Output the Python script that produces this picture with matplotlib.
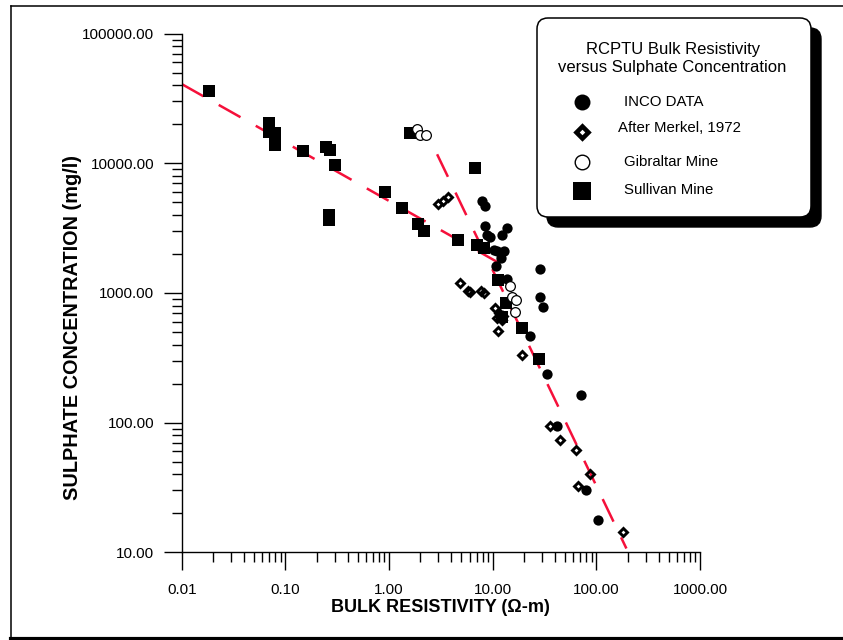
import matplotlib
matplotlib.use('Agg')
import matplotlib.pyplot as plt
from matplotlib.patches import FancyBboxPatch
from matplotlib.ticker import LogLocator, NullFormatter, FuncFormatter

plt.rcParams['font.family'] = ['Liberation Sans', 'DejaVu Sans']

# INCO data (filled circles): bulk resistivity (ohm-m), sulphate (mg/l)
inco_res = [7.9, 8.4, 8.4, 13.6, 8.85, 9.4, 12.2, 10.3, 10.9, 12.8, 12.1, 10.8,
            28.5, 13.8, 28.3, 30.5, 22.8, 33.6, 71, 42, 79.4, 104.5]
inco_so4 = [5150, 4700, 3290, 3155, 2800, 2720, 2800, 2150, 2100, 2120, 1870, 1625,
            1525, 1280, 935, 785, 466, 237, 163, 94.3, 30.2, 17.7]

# After Merkel, 1972 (diamonds)
merkel_res = [3.0, 3.35, 3.72, 4.8, 5.75, 6.1, 7.7, 8.3, 10.6, 11.5, 12.4, 11.0,
              12.7, 11.2, 19.3, 36, 44.5, 64, 86.7, 66.4, 182]
merkel_so4 = [4850, 5150, 5550, 1190, 1040, 1020, 1040, 995, 760, 700, 620, 640,
              665, 510, 332, 95, 73.5, 61, 40.2, 32.6, 14.3]

# Gibraltar Mine (open circles)
gibraltar_res = [1.86, 2.0, 2.29, 14.6, 15.4, 16.9, 16.6]
gibraltar_so4 = [18300, 16550, 16550, 1140, 927, 883, 718]

# Sullivan Mine (squares)
sullivan_res = [0.0184, 0.07, 0.07, 0.079, 0.079, 0.149, 0.244, 0.269, 0.301,
                0.266, 0.266, 0.92, 1.32, 1.89, 2.16, 1.6, 6.72, 4.6, 7.08, 8.2,
                11.3, 13.5, 19.3, 27.7, 12.3]
sullivan_so4 = [36100, 20400, 17500, 17000, 13900, 12400, 13300, 12600, 9710,
                4000, 3660, 6040, 4550, 3400, 3020, 17000, 9160, 2565, 2345, 2213,
                1260, 833, 540, 308, 650]

# dashed trend lines
trend_low_res = [0.01, 12.8]
trend_low_so4 = [40900, 1625]
trend_high_res = [2.91, 195]
trend_high_so4 = [11750, 10.7]

legend_title = ['RCPTU Bulk Resistivity', 'versus Sulphate Concentration']
legend_labels = ['INCO DATA', 'After Merkel, 1972', 'Gibraltar Mine', 'Sullivan Mine']

W, H = 843, 640
fig = plt.figure(figsize=(W / 100, H / 100), dpi=100)
x0, x1, y0, y1 = 181.7, 700.0, 552.3, 33.7
ax = fig.add_axes([x0 / W, 1 - y0 / H, (x1 - x0) / W, (y0 - y1) / H])
ax.set_xscale('log')
ax.set_yscale('log')
ax.set_xlim(0.01, 1000)
ax.set_ylim(10, 100000)

red = '#f5103a'
ax.plot(trend_low_res, trend_low_so4, color=red, lw=1.8, linestyle=(0, (10, 7)), zorder=2)
ax.plot(trend_high_res, trend_high_so4, color=red, lw=1.8, linestyle=(0, (10, 7)), zorder=2)

ax.plot(sullivan_res, sullivan_so4, 's', color='black', ms=8.8, mew=0, zorder=3)
ax.plot(inco_res, inco_so4, 'o', color='black', ms=7.4, mew=0, zorder=3)
ax.plot(gibraltar_res, gibraltar_so4, 'o', mfc='white', mec='black', ms=7.0, mew=0.9, zorder=3)
ax.plot(merkel_res, merkel_so4, 'D', mfc='none', mec='black', ms=4.0, mew=2.1, zorder=3)

for s in ['top', 'right']:
    ax.spines[s].set_visible(False)
for s in ['left', 'bottom']:
    ax.spines[s].set_linewidth(1.0)

fmt = FuncFormatter(lambda v, p: '%.2f' % v)
for axis in (ax.xaxis, ax.yaxis):
    axis.set_major_locator(LogLocator(base=10, numticks=20))
    axis.set_minor_locator(LogLocator(base=10, subs=range(2, 10), numticks=20))
    axis.set_major_formatter(fmt)
    axis.set_minor_formatter(NullFormatter())
ax.tick_params(which='major', direction='out', length=13, width=1.0, labelsize=11)
ax.tick_params(which='minor', direction='out', length=7.5, width=1.0)
ax.tick_params(axis='x', which='major', pad=9)
ax.tick_params(axis='y', which='major', pad=6.7)

ax.set_xlabel('BULK RESISTIVITY (\u03a9-m)', fontsize=13, fontweight='bold')
ax.xaxis.set_label_coords(0.5, -0.091)
ax.set_ylabel('SULPHATE CONCENTRATION (mg/l)', fontsize=14.3, fontweight='bold')
ax.yaxis.set_label_coords(-0.192, 0.434)

# overlay in pixel coordinates for frame and legend
lax = fig.add_axes([0, 0, 1, 1])
lax.set_xlim(0, W)
lax.set_ylim(H, 0)
lax.axis('off')

lax.plot([11, W], [6, 6], color='black', lw=1.1)
lax.plot([11, 11], [6, H], color='black', lw=1.1)
lax.plot([11, W], [638.5, 638.5], color='black', lw=3)

bx, by, bw, bh = 537, 18, 274, 199
shadow = FancyBboxPatch((bx + 10, by + 10), bw, bh, boxstyle='round,pad=0,rounding_size=11',
                        fc='black', ec='black', lw=1)
box = FancyBboxPatch((bx, by), bw, bh, boxstyle='round,pad=0,rounding_size=11',
                     fc='white', ec='black', lw=1.1)
lax.add_patch(shadow)
lax.add_patch(box)

lax.text(673, 49.5, legend_title[0], fontsize=12, ha='center', va='center')
lax.text(672, 67.5, legend_title[1], fontsize=12, ha='center', va='center')

mx = 582
rows = [102, 132, 162, 191]
lax.plot([mx], [rows[0]], 'o', color='black', ms=11.5, mew=0)
lax.plot([mx], [rows[1]], 'D', mfc='none', mec='black', ms=5.8, mew=3.3)
lax.plot([mx], [rows[2]], 'o', mfc='white', mec='black', ms=10.5, mew=1.0)
lax.plot([mx], [rows[3]], 's', color='black', ms=13, mew=0)
text_x = [624, 618, 624, 624]
text_y = [102.5, 128, 161.5, 190.5]
for tx, ty, lab in zip(text_x, text_y, legend_labels):
    lax.text(tx, ty, lab, fontsize=10.8, ha='left', va='center')

fig.savefig('out.png', dpi=100)
